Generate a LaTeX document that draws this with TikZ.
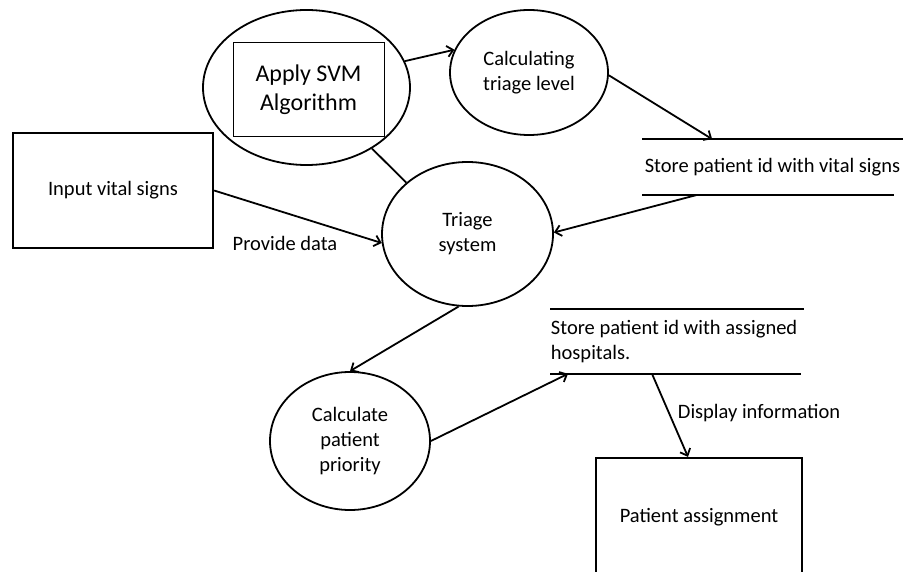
\documentclass[tikz,border=0pt]{standalone}
\usepackage{fontspec}
\setmainfont{Carlito}
\usetikzlibrary{arrows.meta,shapes.geometric}
\tikzset{
  dfd/.style = {align=center, inner sep=0pt,
    font=\fontsize{20.5}{25}\selectfont},
  proc/.style = {dfd, ellipse, draw=black, line width=1.8pt},% processus
  svmbox/.style = {dfd, rectangle, draw=black, line width=1pt,
    minimum width=151pt, minimum height=94pt,
    font=\fontsize{24}{29}\selectfont},% boite dans le processus SVM
  ext/.style = {dfd, rectangle, draw=black, line width=2.2pt},% entite externe
  store/.style = {dfd, rectangle},% depot de donnees, traits dessines a part
  storeline/.style = {-, line width=2.2pt}
}

\begin{document}
\begin{tikzpicture}[x=1pt,y=-1pt,->,>={Straight Barb[length=6pt,width=11pt]},
	line width=1.8pt]
	\useasboundingbox (0,0) rectangle (907,572);

	\node [proc, minimum width=207pt, minimum height=155pt] (svm) at (306.5,87.5) {};
	\node [svmbox] (svmalg) at (308.5,90) {Apply SVM\\Algorithm};
	\node [proc, minimum width=158pt, minimum height=125pt] (calc) at (529,72.5)
		{Calculating\\triage level};
	\node [proc, minimum width=171pt, minimum height=144pt] (triage) at (467.5,234)
		{Triage\\system};
	\node [proc, minimum width=160pt, minimum height=138pt] (prio) at (350,441)
		{Calculate\\patient\\priority};

	\node [ext, minimum width=200pt, minimum height=115pt] (input) at (113,190.5)
		{Input vital signs};
	\node [ext, minimum width=206pt, minimum height=118pt] (assign) at (699,517)
		{Patient assignment};

	\node [store, minimum width=259pt, minimum height=54pt] (vital) at (772.5,167)
		{Store patient id with vital signs};
	\node [store, minimum height=63pt, text width=270pt, align=flush left,
		anchor=north west] (hosp) at (550,309)
		{Store patient id with assigned\\hospitals.};

	\draw [storeline] (vital.north west) -- (vital.north east);
	\draw [storeline] (vital.south west) -- ([xshift=-9pt]vital.south east);
	\draw [storeline] (hosp.north west) -- ([xshift=254pt]hosp.north west);
	\draw [storeline] (hosp.south west) -- ([xshift=251pt]hosp.south west);

	\draw (svm.15) -- (calc.163);
	\draw (calc.-2) -- ([xshift=70pt]vital.north west);
	\draw ([xshift=55pt]vital.south west) -- (triage.1);
	\draw (input.east) -- (triage.186);
	\draw [-] (svm.-43) -- (triage.140);
	\draw (triage.-97) -- (prio.north);
	\draw (prio.east) -- ([xshift=18pt]hosp.south west);
	\draw ([xshift=102pt]hosp.south west) -- ([xshift=-11pt]assign.north);

	\node [dfd] (provide) at (285,243) {Provide data};
	\node [dfd, anchor=west] (display) at (677,413) {Display information};

\end{tikzpicture}
\end{document}
